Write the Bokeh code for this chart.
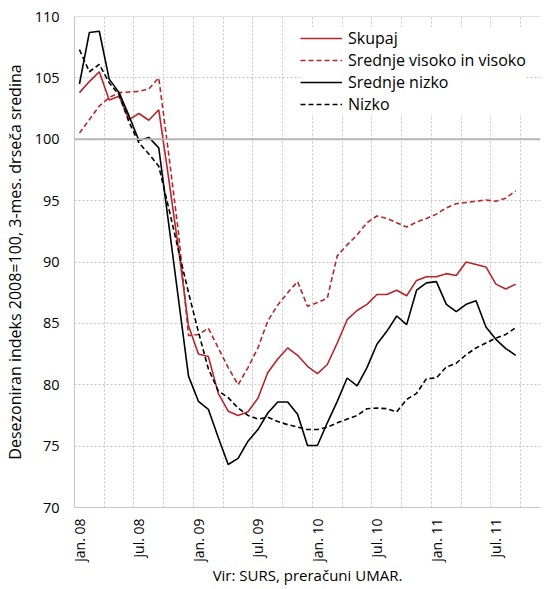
from math import pi
from bokeh.plotting import figure
from bokeh.models import Range1d, FixedTicker, Span, Legend, LegendItem
from bokeh.embed import file_html
from bokeh.resources import INLINE

# ---- data (monthly, jan. 2008 - sep. 2011) ----
tick_labels = ["jan. 08", "jul. 08", "jan. 09", "jul. 09", "jan. 10", "jul. 10", "jan. 11", "jul. 11"]
tick_positions = [0, 6, 12, 18, 24, 30, 36, 42]
n_categories = 47

skupaj = [103.8, 104.7, 105.5, 103.2, 103.5, 101.6, 102.1, 101.55, 102.4, 96.8,
          91.0, 84.8, 82.5, 82.3, 79.3, 77.85, 77.5, 77.8, 78.9, 81.0,
          82.1, 83.0, 82.4, 81.5, 80.9, 81.65, 83.4, 85.3, 86.05, 86.55,
          87.35, 87.35, 87.7, 87.25, 88.5, 88.8, 88.8, 89.05, 88.9, 90.0,
          89.8, 89.6, 88.2, 87.8, 88.2]
srednje_visoko = [100.5, 101.6, 102.7, 103.4, 103.8, 103.85, 103.9, 104.1, 105.0, 98.8,
                  92.3, 84.0, 84.1, 84.6, 83.0, 81.4, 80.0, 81.4, 83.0, 85.2,
                  86.5, 87.5, 88.4, 86.4, 86.7, 87.05, 90.5, 91.4, 92.2, 93.2,
                  93.75, 93.55, 93.2, 92.85, 93.25, 93.55, 93.9, 94.4, 94.75, 94.85,
                  94.95, 95.05, 94.95, 95.2, 95.8]
srednje_nizko = [104.5, 108.7, 108.8, 104.9, 103.8, 101.9, 99.9, 100.15, 99.3, 93.1,
                 86.9, 80.7, 78.65, 78.0, 75.7, 73.5, 74.0, 75.4, 76.35, 77.7,
                 78.6, 78.6, 77.6, 75.05, 75.05, 76.9, 78.65, 80.55, 79.9, 81.4,
                 83.3, 84.35, 85.6, 84.9, 87.7, 88.3, 88.4, 86.55, 85.95, 86.55,
                 86.85, 84.7, 83.7, 82.95, 82.4]
nizko = [107.3, 105.5, 106.1, 104.6, 103.6, 101.4, 99.7, 98.8, 97.8, 94.4,
         90.9, 87.5, 84.3, 81.3, 79.5, 78.95, 78.1, 77.5, 77.2, 77.35,
         77.0, 76.75, 76.55, 76.35, 76.35, 76.55, 76.9, 77.2, 77.5, 78.05,
         78.1, 78.05, 77.8, 78.8, 79.3, 80.5, 80.55, 81.45, 81.75, 82.45,
         83.0, 83.4, 83.8, 84.1, 84.65]

series_names = ["Skupaj", "Srednje visoko in visoko", "Srednje nizko", "Nizko"]
source_text = "Vir: SURS, preračuni UMAR."

RED = "#b3262b"
GRID = "#c4c4c4"
FONT = "Open Sans"

x = list(range(len(skupaj)))

p = figure(width=549, height=588, output_backend="svg", toolbar_location=None,
           x_range=Range1d(-0.5, n_categories - 0.5), y_range=Range1d(70, 110),
           min_border_left=61, min_border_right=9, min_border_top=16, min_border_bottom=81)
p.outline_line_color = None
p.background_fill_color = "white"

# grids
p.ygrid.ticker = FixedTicker(ticks=[70, 75, 80, 85, 90, 95, 105])
p.ygrid.grid_line_color = GRID
p.ygrid.grid_line_dash = "2 2"
p.ygrid.grid_line_width = 1
p.xgrid.ticker = FixedTicker(ticks=[k * 3 - 0.5 for k in range(1, 16)])
p.xgrid.grid_line_color = GRID
p.xgrid.grid_line_dash = "2 2"
p.xgrid.grid_line_width = 1

p.add_layout(Span(location=100, dimension="width", line_color="#b5b5b5", line_width=2))
p.add_layout(Span(location=110, dimension="width", line_color=GRID, line_width=1))

# axes
p.yaxis.ticker = FixedTicker(ticks=[70, 75, 80, 85, 90, 95, 100, 105, 110])
p.yaxis.axis_label = "Desezoniran indeks 2008=100, 3-mes. drseča sredina"
p.yaxis.axis_label_text_font = FONT
p.yaxis.axis_label_text_font_size = "16px"
p.yaxis.axis_label_text_font_style = "normal"
p.yaxis.axis_label_text_color = "black"
p.yaxis.axis_label_standoff = 6
p.yaxis.major_label_standoff = 9
p.yaxis.major_label_text_font_size = "14.5px"

p.xaxis.ticker = FixedTicker(ticks=tick_positions)
p.xaxis.major_label_overrides = {pos: lab for pos, lab in zip(tick_positions, tick_labels)}
p.xaxis.major_label_orientation = pi / 2
p.xaxis.major_label_standoff = 5
p.xaxis.major_label_text_font_size = "14px"
p.xaxis.axis_label = source_text
p.xaxis.axis_label_text_font = FONT
p.xaxis.axis_label_text_font_size = "15px"
p.xaxis.axis_label_text_font_style = "normal"
p.xaxis.axis_label_text_color = "black"
p.xaxis.axis_label_standoff = 0

for ax in (p.xaxis, p.yaxis):
    ax.axis_line_color = GRID
    ax.axis_line_width = 1
    ax.major_tick_line_color = None
    ax.minor_tick_line_color = None
    ax.major_label_text_font = FONT
    ax.major_label_text_color = "black"

# lines
r1 = p.line(x, skupaj, line_color=RED, line_width=1.6)
r2 = p.line(x, srednje_visoko, line_color=RED, line_width=1.6, line_dash="5 3")
r3 = p.line(x, srednje_nizko, line_color="black", line_width=1.6)
r4 = p.line(x, nizko, line_color="black", line_width=1.6, line_dash="5 3")

legend = Legend(items=[LegendItem(label=series_names[0], renderers=[r1]),
                       LegendItem(label=series_names[1], renderers=[r2]),
                       LegendItem(label=series_names[2], renderers=[r3]),
                       LegendItem(label=series_names[3], renderers=[r4])],
                location=(226, 392), margin=0, padding=5, spacing=0,
                glyph_width=42, glyph_height=22, label_height=22, label_standoff=6,
                label_text_font=FONT, label_text_font_size="16px", label_text_color="black",
                border_line_color=None, background_fill_color="white", background_fill_alpha=1.0)
p.add_layout(legend)

open("out.html", "w").write(file_html(p, INLINE))
